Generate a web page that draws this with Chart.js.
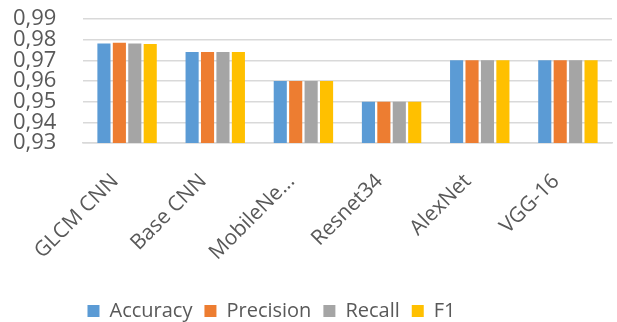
<!DOCTYPE html>
<html>
<head>
<meta charset="utf-8">
<script src="https://cdn.jsdelivr.net/npm/chart.js@4"></script>
<style>
html,body{margin:0;padding:0;background:#fff;}
#wrap{width:617px;height:322px;position:relative;}
</style>
</head>
<body>
<div id="wrap"><canvas id="c"></canvas></div>
<script>
const categories = ['GLCM CNN', 'Base CNN', 'MobileNe...', 'Resnet34', 'AlexNet', 'VGG-16'];
const accuracy  = [0.9782, 0.974, 0.96, 0.95, 0.97, 0.97];
const precision = [0.9785, 0.974, 0.96, 0.95, 0.97, 0.97];
const recall    = [0.9782, 0.974, 0.96, 0.95, 0.97, 0.97];
const f1        = [0.9779, 0.974, 0.96, 0.95, 0.97, 0.97];
const yTicks = [0.93, 0.94, 0.95, 0.96, 0.97, 0.98, 0.99];

const FONT = '"Open Sans", "Noto Sans", sans-serif';
const TXT = '#595959';

const legendShift = {
  id: 'legendShift',
  afterLayout(chart) {
    if (chart.legend) { chart.legend.left -= 41; chart.legend.right -= 41; }
  }
};

new Chart(document.getElementById('c'), {
  type: 'bar',
  data: {
    labels: categories,
    datasets: [
      {label: 'Accuracy', data: accuracy, backgroundColor: '#5B9BD5'},
      {label: 'Precision', data: precision, backgroundColor: '#ED7D31'},
      {label: 'Recall', data: recall, backgroundColor: '#A5A5A5'},
      {label: 'F1', data: f1, backgroundColor: '#FFC000'}
    ]
  },
  plugins: [legendShift],
  options: {
    responsive: true,
    maintainAspectRatio: false,
    animation: false,
    datasets: {bar: {categoryPercentage: 0.7, barPercentage: 0.85}},
    layout: {padding: {top: 19, right: 5, left: 13, bottom: -9}},
    plugins: {
      legend: {
        position: 'bottom',
        labels: {
          font: {family: FONT, size: 20},
          color: TXT,
          boxWidth: 12,
          boxHeight: 12,
          padding: 12
        }
      },
      tooltip: {enabled: false}
    },
    scales: {
      y: {
        min: 0.93,
        max: 0.99,
        afterBuildTicks: (s) => { s.ticks = yTicks.map(v => ({value: v})); },
        afterFit: (s) => { s.width = 70; },
        border: {display: false},
        grid: {color: '#d9d9d9', lineWidth: 1.5, drawTicks: false},
        ticks: {
          font: {family: FONT, size: 22},
          color: TXT,
          padding: 0,
          crossAlign: 'far',
          autoSkip: false,
          callback: (v) => Number(v).toFixed(2).replace('.', ',')
        }
      },
      x: {
        border: {display: true, color: '#d9d9d9', width: 1.5},
        grid: {display: false},
        afterFit: (s) => { s.height = 146; },
        ticks: {
          font: {family: FONT, size: 21},
          color: TXT,
          maxRotation: 45,
          minRotation: 45,
          autoSkip: false,
          labelOffset: -12,
          padding: 18
        }
      }
    }
  }
});
</script>
</body>
</html>
